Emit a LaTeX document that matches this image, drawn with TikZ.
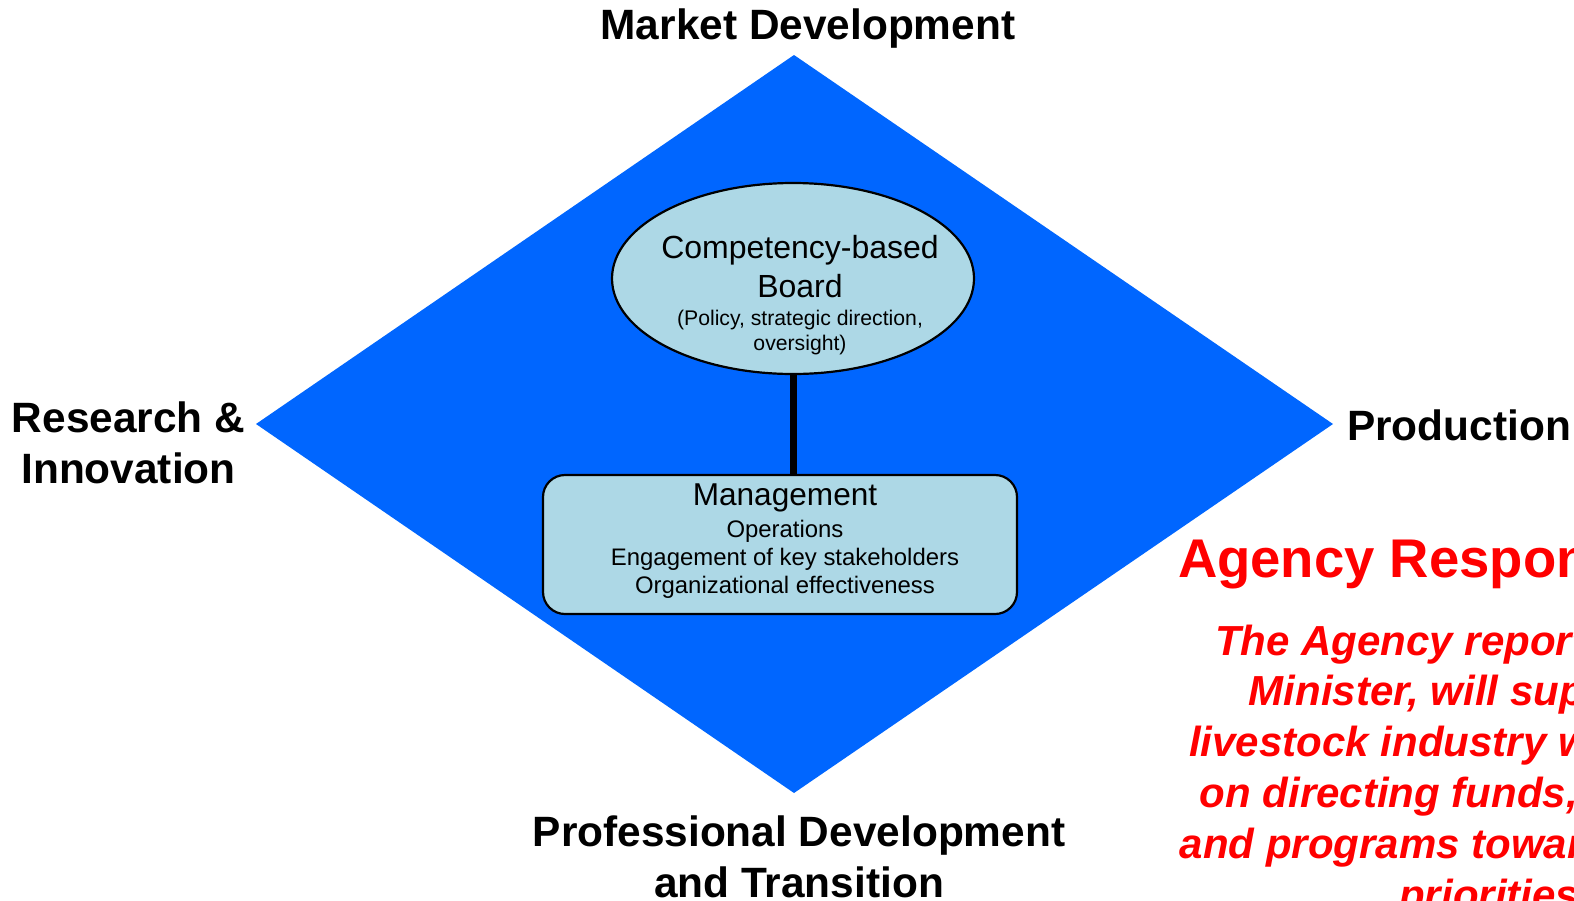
\documentclass[tikz,border=0pt]{standalone}
\usepackage{fontspec}
\setmainfont{Liberation Sans}
\usetikzlibrary{shapes.geometric}

\definecolor{diamondblue}{RGB}{0,102,255}
\definecolor{boardblue}{RGB}{173,216,230}
\definecolor{agencyred}{RGB}{255,0,0}

\begin{document}
\begin{tikzpicture}[x=1pt, y=-1pt,
	arealabel/.style={font=\fontsize{42.4}{50.5}\selectfont\bfseries, align=center, inner sep=0pt, anchor=base},
	boxtext/.style={align=center, inner sep=0pt, anchor=base},
	unit/.style={draw, line width=2.2pt, fill=boardblue, inner sep=0pt}]
	\clip (0,0) rectangle (1574,900);

	% the four corners of the diamond
	\coordinate (Top) at (794,55);
	\coordinate (Right) at (1333,424);
	\coordinate (Bottom) at (794,793);
	\coordinate (Left) at (256,424);
	\fill [diamondblue] (Top) -- (Right) -- (Bottom) -- (Left) -- cycle;

	% board and management
	\node [unit, ellipse, minimum width=362pt, minimum height=191pt] (Board) at (793,278.5) {};
	\node [unit, rounded corners=22pt, minimum width=474pt, minimum height=139pt] (Mgmt) at (780,544.5) {};
	\draw [line width=7pt] (Board.south) -- (Board.south |- Mgmt.north);

	% multi-line texts sit on the baseline of their last line
	\node [boxtext, font=\fontsize{32}{39}\selectfont] (BoardTitle) at (800,297) {Competency-based\\Board};
	\node [boxtext, font=\fontsize{21.2}{25}\selectfont] (BoardNote) at (800,350) {(Policy, strategic direction,\\oversight)};
	\node [boxtext, font=\fontsize{31.6}{38}\selectfont] (MgmtTitle) at (785,505) {Management};
	\node [boxtext, font=\fontsize{23.9}{28}\selectfont] (MgmtNote) at (785,593) {Operations\\Engagement of key stakeholders\\Organizational effectiveness};

	% labels round the diamond
	\node [arealabel] (Market) at (808,39) {Market Development};
	\node [arealabel] (Research) at (128.5,483) {Research \&\\Innovation};
	\node [arealabel, anchor=base west] (Production) at (1347,440) {Production};
	\node [arealabel] (Professional) at (799,897) {Professional Development\\and Transition};

	% agency text, running off the page
	\node [boxtext, font=\fontsize{54.5}{62}\selectfont\bfseries, text=agencyred] (AgencyTitle) at (1493,577) {Agency Responsibilities};
	\node [boxtext, font=\fontsize{42}{50.8}\selectfont\bfseries\itshape, text=agencyred] (AgencyNote) at (1495,909) {The Agency reporting to the\\Minister, will support the\\livestock industry with a focus\\on directing funds, resources\\and programs towards industry\\priorities.};
\end{tikzpicture}
\end{document}
